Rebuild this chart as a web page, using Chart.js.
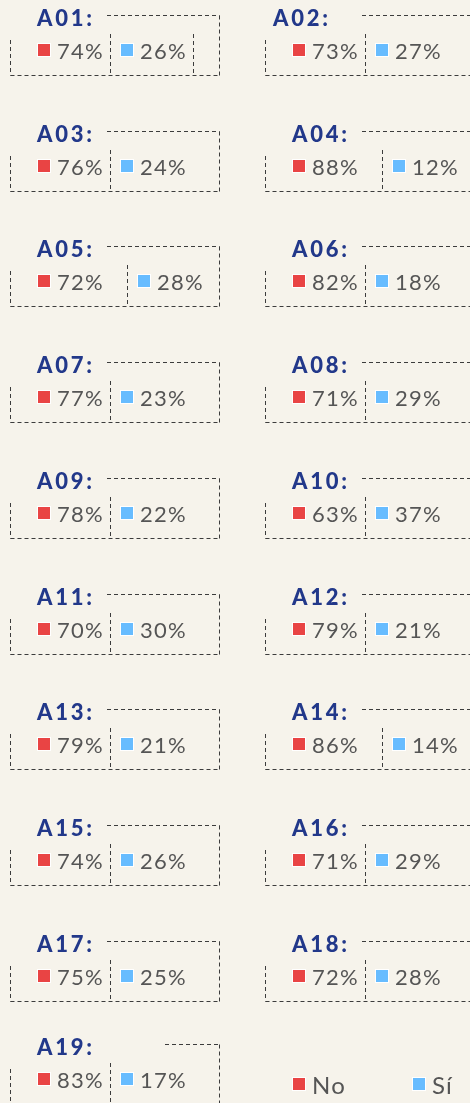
<!DOCTYPE html>
<html lang="es">
<head>
<meta charset="utf-8">
<title>Respuestas por ítem</title>
<script src="https://cdn.jsdelivr.net/npm/chart.js@4.4.1/dist/chart.umd.min.js"></script>
<style>
  html, body { margin: 0; padding: 0; }
  body { width: 470px; height: 1103px; overflow: hidden; background: #f6f3eb; position: relative; }
  .panel { position: absolute; }
</style>
</head>
<body>
<div id="board"></div>
<script>
// Ítems y porcentajes de respuesta
const items = ['A01','A02','A03','A04','A05','A06','A07','A08','A09','A10',
               'A11','A12','A13','A14','A15','A16','A17','A18','A19'];
const noValues = [74, 73, 76, 88, 72, 82, 77, 71, 78, 63, 70, 79, 79, 86, 74, 71, 75, 72, 83];
const siValues = [26, 27, 24, 12, 28, 18, 23, 29, 22, 37, 30, 21, 21, 14, 26, 29, 25, 28, 17];
const categories = ['No', 'Sí'];

const COLORS = ['#e94444', '#67bcff'];
const TITLE_COLOR = '#22388a';
const TEXT_COLOR = '#555555';
const FRAME_COLOR = '#3c3c3c';
const FONT = 'Lato, "Open Sans", sans-serif';

const PANEL_W = 255, PANEL_H = 118;
const COL_STEP = 255, ROW_STEP = 115.7, LAST_ROW_STEP = 103;

// Ajustes de maquetación de algunas tarjetas
const wideSplit = { A04: true, A05: true, A14: true };
const extraDivider = { A01: 193 };
const titleShift = { A02: -19 };
const topLineStart = { A19: 165 };

function dashedLine(ctx, x1, y1, x2, y2) {
  ctx.beginPath();
  ctx.moveTo(x1, y1);
  ctx.lineTo(x2, y2);
  ctx.stroke();
}

function drawMarker(ctx, x, yMid, color, text, size) {
  ctx.save();
  ctx.fillStyle = color;
  ctx.fillRect(x, yMid - 7, 14, 14);
  ctx.strokeStyle = '#ffffff';
  ctx.lineWidth = 1;
  ctx.strokeRect(x + 0.5, yMid - 6.5, 13, 13);
  ctx.fillStyle = TEXT_COLOR;
  ctx.font = size + 'px ' + FONT;
  if ('letterSpacing' in ctx) ctx.letterSpacing = '1.2px';
  ctx.textBaseline = 'alphabetic';
  ctx.textAlign = 'left';
  ctx.fillText(text, x + 20, yMid + size * 0.4);
  ctx.restore();
}

// Tarjeta: marco discontinuo, título y etiquetas de cada categoría
const cardPlugin = {
  id: 'card',
  beforeDatasetsDraw() { return false; },
  afterDraw(chart, args, opts) {
    const ctx = chart.ctx;
    const xs = chart.scales.x;
    const area = chart.chartArea;
    const yMid = (area.top + area.bottom) / 2;
    const ds = chart.data.datasets[0];

    if (opts.frame) {
      const f = opts.frame;
      ctx.save();
      ctx.strokeStyle = FRAME_COLOR;
      ctx.lineWidth = 1;
      ctx.setLineDash([4, 3]);
      dashedLine(ctx, f.topStart, 15.5, 219.5, 15.5);
      dashedLine(ctx, 219.5, 15.5, 219.5, 75.5);
      dashedLine(ctx, 10.5, 75.5, 219.5, 75.5);
      dashedLine(ctx, 10.5, 40, 10.5, 75.5);
      dashedLine(ctx, f.split + 0.5, 34, f.split + 0.5, 75.5);
      if (f.extra) dashedLine(ctx, f.extra + 0.5, 34, f.extra + 0.5, 75.5);
      ctx.restore();
    }

    if (opts.title) {
      ctx.save();
      ctx.fillStyle = TITLE_COLOR;
      ctx.font = '900 22px ' + FONT;
      if ('letterSpacing' in ctx) ctx.letterSpacing = '2.8px';
      ctx.textBaseline = 'alphabetic';
      ctx.fillText(opts.title, opts.titleX, 26);
      ctx.restore();
    }

    chart.data.labels.forEach((cat, i) => {
      const x = xs.getPixelForValue(i);
      const text = opts.showValues ? ds.data[i] + '%' : cat;
      drawMarker(ctx, Math.round(x), yMid, ds.backgroundColor[i], text, opts.fontSize);
    });
  }
};

const board = document.getElementById('board');

function makeCanvas(left, top) {
  const c = document.createElement('canvas');
  c.className = 'panel';
  c.width = PANEL_W; c.height = PANEL_H;
  c.style.left = left + 'px';
  c.style.top = top + 'px';
  c.style.width = PANEL_W + 'px';
  c.style.height = PANEL_H + 'px';
  board.appendChild(c);
  return c;
}

function rowTop(r) {
  return r < 9 ? r * ROW_STEP : 8 * ROW_STEP + LAST_ROW_STEP;
}

items.forEach((code, i) => {
  const col = i % 2, row = Math.floor(i / 2);
  const split = wideSplit[code] ? 127 : 110;
  const canvas = makeCanvas(col * COL_STEP, rowTop(row));
  new Chart(canvas, {
    type: 'bar',
    data: {
      labels: categories,
      datasets: [{ label: code, data: [noValues[i], siValues[i]], backgroundColor: COLORS }]
    },
    options: {
      responsive: false,
      animation: false,
      devicePixelRatio: 1,
      layout: { padding: { left: 37, right: PANEL_W - (split + 10), top: 36, bottom: PANEL_H - 64 } },
      scales: {
        x: { type: 'category', offset: false, display: false },
        y: { display: false, min: 0, max: 100 }
      },
      plugins: {
        legend: { display: false },
        tooltip: { enabled: false },
        card: {
          showValues: true,
          fontSize: 22,
          title: code + ':',
          titleX: 37 + (titleShift[code] || 0),
          frame: { split, extra: extraDivider[code], topStart: topLineStart[code] || 107 }
        }
      }
    },
    plugins: [cardPlugin]
  });
});

// Leyenda de categorías
const legendCanvas = makeCanvas(COL_STEP, rowTop(9));
new Chart(legendCanvas, {
  type: 'bar',
  data: {
    labels: categories,
    datasets: [{ label: 'Respuesta', data: [0, 0], backgroundColor: COLORS }]
  },
  options: {
    responsive: false,
    animation: false,
    devicePixelRatio: 1,
    layout: { padding: { left: 37, right: PANEL_W - 157, top: 40, bottom: PANEL_H - 70 } },
    scales: {
      x: { type: 'category', offset: false, display: false },
      y: { display: false, min: 0, max: 100 }
    },
    plugins: {
      legend: { display: false },
      tooltip: { enabled: false },
      card: { showValues: false, fontSize: 24 }
    }
  },
  plugins: [cardPlugin]
});
</script>
</body>
</html>
